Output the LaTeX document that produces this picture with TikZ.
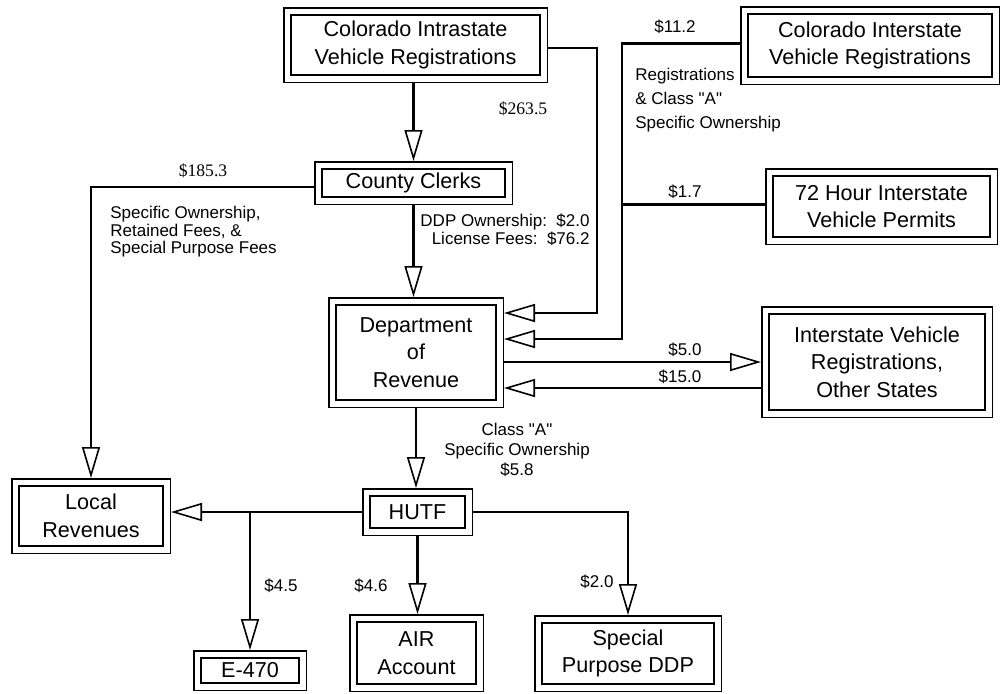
\documentclass[tikz,border=0pt]{standalone}
\usepackage{fontspec}
\setmainfont{Liberation Sans}
\newfontfamily\serfont{Liberation Serif}
\newfontfamily\qtfont{Liberation Sans}
\newcommand{\qt}[1]{{\qtfont"}#1{\qtfont"}}
\usetikzlibrary{arrows.meta,calc}
\tikzset{
	box/.style={draw, double, double distance=2.8pt, line width=0.75pt, outer sep=2.15pt,
		inner sep=0pt, align=center, font=\fontsize{10.8}{13.8}\selectfont},
	bsize/.style 2 args={minimum width=#1*0.5pt-4.3pt, minimum height=#2*0.5pt-4.3pt},
	flow/.style={line width=1.3pt, -{Triangle[open, length=15.5pt, width=9pt, line width=0.8pt]}},
	link/.style={line width=1.3pt},
	lbl/.style={inner sep=0pt, font=\fontsize{8.5}{9}\selectfont},
	num/.style={inner sep=0pt, font=\serfont\fontsize{8.8}{10}\selectfont}
}

\begin{document}
\begin{tikzpicture}[x=0.5pt, y=-0.5pt]
	\useasboundingbox (0,0) rectangle (1003,693);
	% boxes
	\node[box, bsize={265}{76}] (intra) at (415.5,45) {Colorado Intrastate\\Vehicle Registrations};
	\node[box, bsize={260}{79}] (inter) at (870,45.5) {Colorado Interstate\\Vehicle Registrations};
	\node[box, bsize={199}{44}] (clerks) at (413.5,183) {County Clerks};
	\node[box, bsize={233}{77}] (permit) at (881.5,206.5) {72 Hour Interstate\\Vehicle Permits};
	\node[box, bsize={176}{111}] (dor) at (416,352.5) {Department\\of\\Revenue};
	\node[box, bsize={232}{112}] (other) at (877,362) {Interstate Vehicle\\Registrations,\\Other States};
	\node[box, bsize={160}{76}] (local) at (91,516) {Local\\Revenues};
	\node[box, bsize={111}{48}] (hutf) at (417.5,512) {HUTF};
	\node[box, bsize={114}{41}] (e470) at (250,670.5) {E-470};
	\node[box, bsize={135}{78}] (air) at (416.5,653) {AIR\\Account};
	\node[box, bsize={188}{77}] (ddp) at (628,653.5) {Special\\Purpose DDP};
	% side coordinates on the department box
	\coordinate (d1) at ($(dor.east)+(0,-39.5)$);
	\coordinate (d2) at ($(dor.east)+(0,-13.5)$);
	\coordinate (d3) at ($(dor.east)+(0,9.5)$);
	\coordinate (d4) at ($(dor.east)+(0,35.5)$);
	% flows
	\draw[flow] (intra.south -| clerks.north) -- (clerks.north);
	\draw[flow] ([yshift=-1.5pt]intra.east) -- ++(49,0) |- (d1);
	\draw[flow] ([yshift=1pt]inter.west) -- ++(-118,0) |- (d2);
	\draw[link] ([yshift=1pt]permit.west) -- ++(-143,0);
	\draw[flow] (clerks.south) -- (clerks.south |- dor.north);
	\draw[flow] ([yshift=-2pt]clerks.west) -| (local.north);
	\draw[flow] (d3) -- (d3 -| other.west);
	\draw[flow] (d4 -| other.west) -- (d4);
	\draw[flow] (dor.south) -- (dor.south |- hutf.north);
	\draw[flow] (hutf.west) -- (hutf.west -| local.east);
	\draw[flow] (e470.north |- hutf.west) -- (e470.north);
	\draw[flow] (hutf.south) -- (hutf.south |- air.north);
	\draw[flow] (hutf.east) -| (ddp.north);
	% labels
	\node[num] at (523,109) {\$263.5};
	\node[num] at (203,171) {\$185.3};
	\node[lbl] at (675,27) {\$11.2};
	\node[lbl, align=left, anchor=north west, font=\fontsize{8.5}{12}\selectfont] at (635,68) {Registrations\\\& Class \qt{A}\\Specific Ownership};
	\node[lbl] at (685,192) {\$1.7};
	\node[lbl, align=right, anchor=east, font=\fontsize{8.5}{8}\selectfont] at (590,230) {DDP Ownership:~~\$2.0\\License Fees:~~\$76.2};
	\node[lbl, align=left, anchor=north west, font=\fontsize{8.5}{8.75}\selectfont] at (110,206) {Specific Ownership,\\Retained Fees, \&\\Special Purpose Fees};
	\node[lbl] at (685,350) {\$5.0};
	\node[lbl] at (680,377) {\$15.0};
	\node[lbl, align=center, font=\fontsize{8.5}{10}\selectfont] at (517,450) {Class \qt{A}\\Specific Ownership\\\$5.8};
	\node[lbl] at (281,586) {\$4.5};
	\node[lbl] at (371,586) {\$4.6};
	\node[lbl] at (597,582) {\$2.0};
\end{tikzpicture}
\end{document}
